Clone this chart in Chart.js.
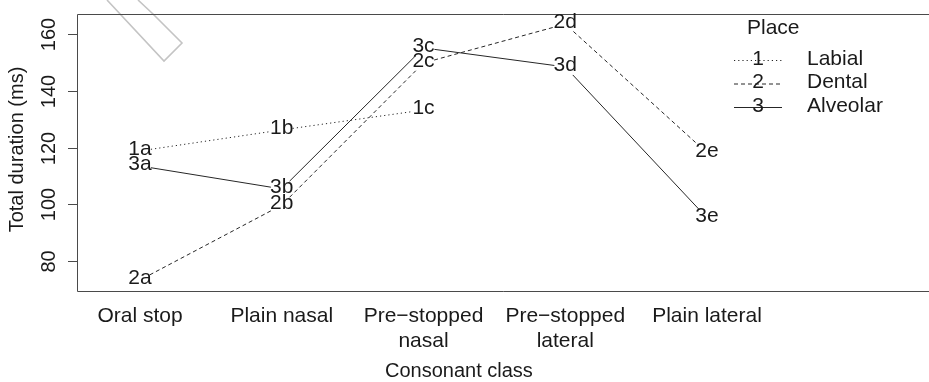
<!DOCTYPE html>
<html><head><meta charset="utf-8">
<script src="https://cdn.jsdelivr.net/npm/chart.js@4"></script>
<style>html,body{margin:0;padding:0;background:#fff;overflow:hidden}#wrap{width:929px;height:382px}</style>
</head><body><div id="wrap"><canvas id="c" width="929" height="382"></canvas></div>
<script>
// ---- data ----
const categories = [['Oral stop'], ['Plain nasal'], ['Pre\u2212stopped', 'nasal'], ['Pre\u2212stopped', 'lateral'], ['Plain lateral']];
const categoryPositions = [1, 2, 3, 4, 5];
const labialValues   = [118.8, 126.2, 133.2];
const dentalValues   = [73.3, 99.7, 149.8, 163.5, 118.1];
const alveolarValues = [113.5, 105.4, 155.1, 148.4, 95.2];
const labialLabels   = ['1a', '1b', '1c'];
const dentalLabels   = ['2a', '2b', '2c', '2d', '2e'];
const alveolarLabels = ['3a', '3b', '3c', '3d', '3e'];
const seriesNames = ['Labial', 'Dental', 'Alveolar'];
const seriesCodes = ['1', '2', '3'];
const yTicks = [80, 100, 120, 140, 160];
const xTitle = 'Consonant class';
const yTitle = 'Total duration (ms)';
const legendTitle = 'Place';

const FONT = '"Liberation Sans", Arial, Helvetica, sans-serif';
const TEXT = '#1a1a1a';
const dashes = [[1.2, 3], [4, 3], []];

function pts(vals) { return vals.map((v, i) => ({ x: categoryPositions[i], y: v })); }
const seriesLabels = [labialLabels, dentalLabels, alveolarLabels];

const drawPlugin = {
  id: 'custom',
  afterDraw(chart) {
    const ctx = chart.ctx, ca = chart.chartArea;
    const xs = chart.scales.x, ys = chart.scales.y;
    ctx.save();
    // watermark fragment
    ctx.strokeStyle = '#c4c4c4'; ctx.lineWidth = 1.6; ctx.setLineDash([]);
    ctx.beginPath();
    ctx.moveTo(107, 0); ctx.lineTo(164, 61); ctx.lineTo(182, 43); ctx.lineTo(153, 14); ctx.lineTo(138, 0);
    ctx.stroke();
    // frame (open on right)
    ctx.strokeStyle = '#4a4a4a'; ctx.lineWidth = 1;
    ctx.beginPath();
    ctx.moveTo(chart.width, Math.round(ca.top) + 0.5);
    ctx.lineTo(Math.round(ca.left) + 0.5, Math.round(ca.top) + 0.5);
    ctx.lineTo(Math.round(ca.left) + 0.5, Math.round(ca.bottom) + 0.5);
    ctx.lineTo(chart.width, Math.round(ca.bottom) + 0.5);
    ctx.stroke();
    // y ticks & labels
    ctx.fillStyle = TEXT;
    ctx.font = '20px ' + FONT;
    ctx.textAlign = 'center'; ctx.textBaseline = 'middle';
    yTicks.forEach(v => {
      const y = Math.round(ys.getPixelForValue(v)) + 0.5;
      ctx.beginPath(); ctx.moveTo(ca.left - 9, y); ctx.lineTo(ca.left, y); ctx.stroke();
      ctx.save(); ctx.translate(ca.left - 29, y); ctx.rotate(-Math.PI / 2);
      ctx.fillText(String(v), 0, 1); ctx.restore();
    });
    // y title
    ctx.save(); ctx.translate(17, (ca.top + ca.bottom) / 2 - 3); ctx.rotate(-Math.PI / 2);
    ctx.fillText(yTitle, 0, 0); ctx.restore();
    // x labels
    ctx.font = '21px ' + FONT;
    ctx.textBaseline = 'alphabetic';
    categories.forEach((lines, i) => {
      const x = xs.getPixelForValue(categoryPositions[i]);
      lines.forEach((t, j) => ctx.fillText(t, x, ca.bottom + 31 + j * 25));
    });
    ctx.font = '20px ' + FONT;
    ctx.fillText(xTitle, xs.getPixelForValue(3.25), ca.bottom + 86);
    // series lines with gaps
    ctx.font = '21px ' + FONT;
    const gap = 11;
    chart.data.datasets.forEach((ds, di) => {
      const meta = chart.getDatasetMeta(di);
      const p = meta.data;
      ctx.strokeStyle = '#262626'; ctx.lineWidth = 1; ctx.setLineDash(dashes[di]);
      for (let i = 0; i < p.length - 1; i++) {
        const a = p[i], b = p[i + 1];
        const dx = b.x - a.x, dy = b.y - a.y, L = Math.hypot(dx, dy);
        const ux = dx / L, uy = dy / L;
        ctx.beginPath();
        ctx.moveTo(a.x + ux * gap, a.y + uy * gap);
        ctx.lineTo(b.x - ux * gap, b.y - uy * gap);
        ctx.stroke();
      }
      ctx.setLineDash([]);
      ctx.textBaseline = 'middle'; ctx.fillStyle = TEXT;
      p.forEach((pt, i) => ctx.fillText(seriesLabels[di][i], pt.x, pt.y - 2));
    });
    // legend
    const lx0 = 734, lx1 = 782, tx = 807;
    ctx.textAlign = 'left'; ctx.textBaseline = 'middle';
    ctx.fillText(legendTitle, 747, 28);
    seriesNames.forEach((name, i) => {
      const y = 59 + i * 23.5;
      ctx.strokeStyle = '#262626'; ctx.setLineDash(dashes[i]);
      ctx.beginPath(); ctx.moveTo(lx0, y + 1.5); ctx.lineTo(lx1, y + 1.5); ctx.stroke();
      ctx.setLineDash([]);
      ctx.textAlign = 'center'; ctx.fillText(seriesCodes[i], (lx0 + lx1) / 2, y);
      ctx.textAlign = 'left'; ctx.fillText(name, tx, y);
    });
    ctx.restore();
  }
};

new Chart(document.getElementById('c'), {
  type: 'line',
  data: {
    datasets: [
      { label: seriesNames[0], data: pts(labialValues) },
      { label: seriesNames[1], data: pts(dentalValues) },
      { label: seriesNames[2], data: pts(alveolarValues) }
    ].map(d => Object.assign(d, { showLine: false, pointRadius: 0, borderWidth: 0 }))
  },
  options: {
    responsive: false, animation: false, devicePixelRatio: 1,
    layout: { padding: { top: 14, left: 0, right: 0, bottom: 0 } },
    plugins: { legend: { display: false }, tooltip: { enabled: false } },
    scales: {
      x: { type: 'linear', min: 0.5556, max: 6.566, display: true,
           ticks: { display: false }, grid: { display: false }, border: { display: false },
           afterFit(s) { s.height = 91; } },
      y: { type: 'linear', min: 69.43, max: 167.05, display: true,
           ticks: { display: false, includeBounds: false, stepSize: 20 },
           grid: { display: false }, border: { display: false },
           afterFit(s) { s.width = 77; } }
    }
  },
  plugins: [drawPlugin]
});
</script></body></html>
